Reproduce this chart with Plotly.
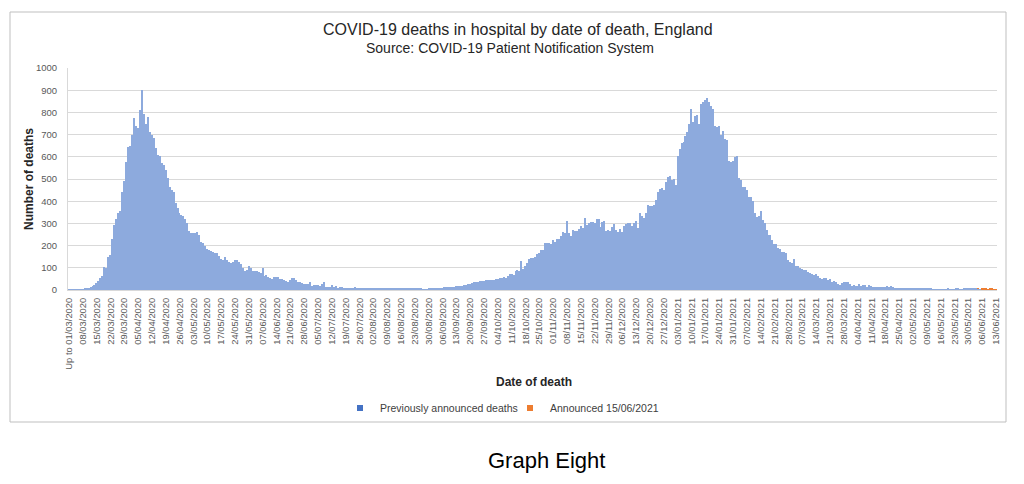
import pandas as pd
import plotly.graph_objects as go

# ---- data -------------------------------------------------------------
start_date = "2020-03-01"
end_date = "2021-06-13"

# Previously announced deaths, by day (first entry = "Up to 01/03/2020")
wave1_2020 = [
    1, 1, 1, 2, 2, 2, 3, 4, 5, 6,
    10, 14, 18, 22, 32, 42, 55, 62, 105, 100,
    150, 158, 230, 295, 322, 348, 358, 440, 490, 578,
    643, 650, 698, 776, 740, 728, 810, 900, 795, 750,
    780, 713, 700, 683, 640, 610, 603, 570, 565, 540,
    503, 465, 450, 440, 390, 370, 345, 338, 335, 318,
    303, 268, 255, 255, 258, 262, 250, 218, 210, 200,
    185, 180, 175, 173, 165, 165, 155, 140, 135, 148,
    135, 128, 120, 128, 135, 135, 125, 117, 100, 87,
    92, 110, 100, 87, 87, 85, 80, 78, 100, 62,
    68, 60, 53, 50, 58, 57, 60, 50, 50, 45,
    42, 38, 45, 52, 53, 46, 38, 35, 32, 28,
    27, 27,
]
summer_2020 = [
    35, 18, 22, 22, 22, 18, 25, 38, 15, 12,
    15, 22, 12, 18, 8, 12, 15, 10, 10, 10,
    9, 10, 11, 12, 8, 7, 6, 6, 6, 5,
    7, 10, 7, 6, 6, 6, 8, 7, 6, 9,
    8, 5, 7, 8, 5, 5, 6, 6, 5, 6,
    6, 5, 6, 8, 8, 7, 5, 4, 3, 4,
    5, 6, 7, 8, 8, 8, 9, 10, 12, 12,
    12, 14, 15, 15, 16, 18, 18, 19, 21, 23,
    25, 28, 31, 34, 36, 38, 39, 40, 42, 44,
    47, 46, 45, 47, 51,
]
autumn_2020 = [
    48, 52, 55, 57, 54, 62, 72, 70, 67, 84,
    90, 86, 130, 95, 108, 122, 140, 145, 142, 148,
    162, 168, 178, 178, 210, 210, 213, 207, 225, 217,
    232, 228, 245, 262, 255, 310, 255, 245, 272, 267,
    268, 275, 290, 280, 325, 292, 302, 305, 305, 300,
    318, 320, 285, 305, 312, 267, 270, 268, 285, 298,
    272, 262,
]
winter_2021 = [
    275, 262, 288, 298, 300, 300, 290, 300, 312, 280,
    345, 335, 325, 348, 385, 378, 378, 385, 405, 440,
    455, 458, 452, 485, 510, 512, 495, 500, 472, 605,
    635, 660, 665, 695, 712, 750, 815, 757, 782, 790,
    750, 840, 845, 855, 865, 845, 830, 815, 740, 735,
    738, 700, 715, 682, 675, 580, 578, 582, 600, 603,
    505, 495, 465, 462, 450, 420, 420, 400, 345, 330,
    335, 355, 315, 302, 272, 250, 246, 225, 205, 205,
    190,
]
spring_2021 = [
    185, 172, 170, 168, 135, 127, 122, 138, 108, 110,
    97, 96, 90, 92, 83, 78, 72, 68, 70, 64,
    54, 48, 52, 54, 47, 50, 37, 42, 35, 28,
    24, 32, 37, 34, 35, 25, 19, 22, 20, 16,
    26, 20, 22, 21, 13, 22, 20, 15, 12, 12,
    14, 12, 12, 12, 17, 14, 16, 12, 11, 9,
    10, 9, 9, 8, 9, 9, 7, 9, 7, 8,
    7, 8, 6, 6, 5, 10, 6, 4, 3, 4,
    3, 4, 4, 4, 4, 5, 4, 4, 3, 7,
    5, 4, 4, 5, 5, 7, 5, 6, 8, 5,
    5, 3, 4, 4, 4, 3, 4, 3, 2, 1,
]
# Deaths announced 15/06/2021 (last ten days of the period)
announced_latest = [1, 0, 1, 1, 1, 1, 2, 2, 2, 2]

series_names = ["Previously announced deaths", "Announced 15/06/2021"]
series_colors = ["#4472C4", "#ED7D31"]

# ---- build ------------------------------------------------------------
dates = pd.date_range(start_date, end_date, freq="D")
labels = [d.strftime("%d/%m/%Y") for d in dates]
labels[0] = "Up to " + labels[0]
prev = wave1_2020 + summer_2020 + autumn_2020 + winter_2021 + spring_2021
idx = list(range(len(dates)))
n = min(len(prev), len(idx))

tick_idx = idx[::7]
tick_txt = [labels[i] for i in tick_idx]

fig = go.Figure()
fig.add_trace(go.Bar(x=idx[:n], y=prev[:n], marker=dict(color="#8DAADD", line=dict(width=0)),
                     name=series_names[0], showlegend=False))
fig.add_trace(go.Bar(x=idx[-len(announced_latest):], y=announced_latest,
                     marker=dict(color=series_colors[1], line=dict(width=0)),
                     name=series_names[1], showlegend=False))
# legend entries
fig.add_trace(go.Scatter(x=[None], y=[None], mode="markers", name=series_names[0],
                         marker=dict(symbol="square", size=6, color=series_colors[0]), legend="legend"))
fig.add_trace(go.Scatter(x=[None], y=[None], mode="markers", name=series_names[1],
                         marker=dict(symbol="square", size=6, color=series_colors[1]), legend="legend2"))

# page body has an 8px margin, so the figure is 8px smaller than the window
W, H = 1016, 476
OFF = 8
L, R, T, B = 68, 997, 68, 290          # plot area in window pixels
pw, ph = R - L, B - T
def px(x):
    return (x - L) / pw
def py(y):
    return (B - y) / ph

FONT = "Liberation Sans"
ann = dict(xref="paper", yref="paper", showarrow=False, xanchor="center", yanchor="middle")
fig.update_layout(
    width=W, height=H,
    margin=dict(l=L - OFF, r=W + OFF - R, t=T - OFF, b=H + OFF - B, pad=0),
    paper_bgcolor="white", plot_bgcolor="white",
    barmode="stack", bargap=0.3,
    font=dict(family=FONT, color="#595959"),
    legend=dict(orientation="h", x=px(340), y=py(408), xanchor="left", yanchor="middle",
                font=dict(size=10.5, color="#404040"), itemwidth=30, bgcolor="rgba(0,0,0,0)"),
    legend2=dict(orientation="h", x=px(510), y=py(408), xanchor="left", yanchor="middle",
                 font=dict(size=10.5, color="#404040"), itemwidth=30, bgcolor="rgba(0,0,0,0)"),
    xaxis=dict(range=[-0.5, len(idx) - 0.5], tickmode="array", tickvals=tick_idx, ticktext=tick_txt,
               tickangle=-90, tickfont=dict(size=9.4, color="#595959"), showgrid=False,
               showline=True, linecolor="#D9D9D9", ticks="", automargin=False, zeroline=False,
               ticklabelstandoff=3),
    yaxis=dict(range=[0, 1000], dtick=100, tickfont=dict(size=9.5, color="#595959"),
               gridcolor="#D9D9D9", showline=True, linecolor="#D9D9D9", ticks="",
               automargin=False, zeroline=False, ticklabelstandoff=8),
    shapes=[dict(type="rect", xref="paper", yref="paper", x0=px(10), x1=px(1006), y0=py(422), y1=py(12),
                 line=dict(color="#BFBFBF", width=1), fillcolor="rgba(0,0,0,0)", layer="below")],
    annotations=[
        dict(text="COVID-19 deaths in hospital by date of death, England",
             x=px(518), y=py(29), font=dict(size=16, color="#262626"), **ann),
        dict(text="Source: COVID-19 Patient Notification System",
             x=px(510), y=py(48), font=dict(size=14, color="#262626"), **ann),
        dict(text="<b>Date of death</b>",
             x=px(534), y=py(382), font=dict(size=12, color="#262626"), **ann),
        dict(text="<b>Number of deaths</b>", textangle=-90,
             x=px(29), y=py(179), font=dict(size=12, color="#262626"), **ann),
        dict(text="Graph Eight",
             x=px(546), y=py(460), font=dict(size=22, color="#000000"), **ann),
    ],
)

fig.write_html("out.html")
